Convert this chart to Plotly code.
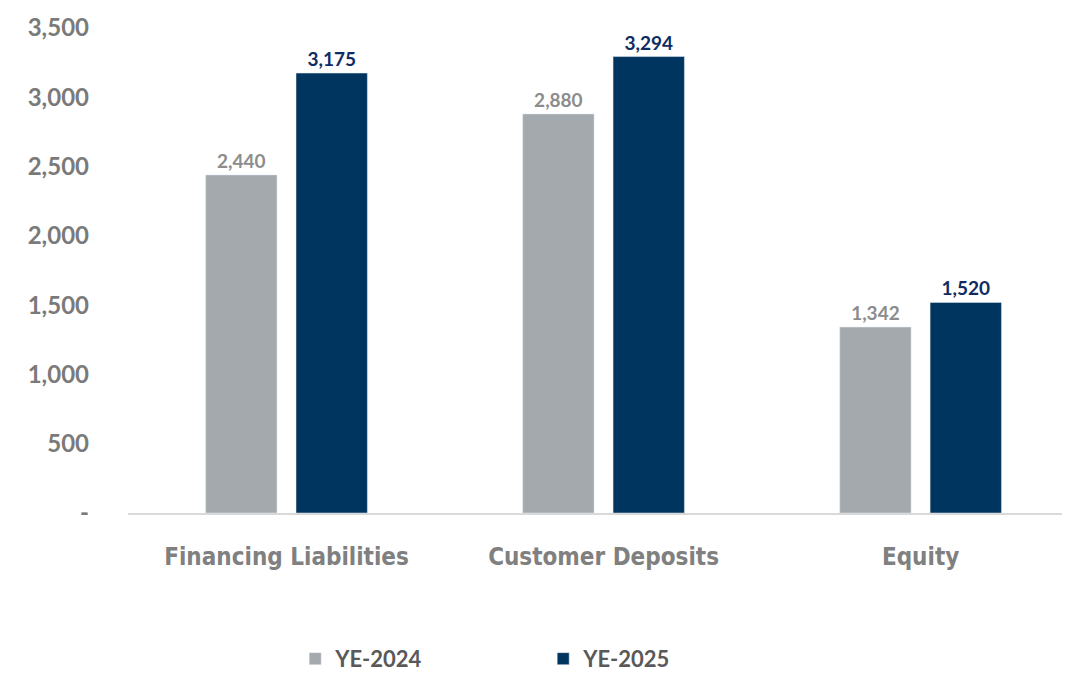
import plotly.graph_objects as go

categories = ["Financing Liabilities", "Customer Deposits", "Equity"]
ye2024 = [2440, 2880, 1342]
ye2025 = [3175, 3294, 1520]
y_tickvals = [0, 500, 1000, 1500, 2000, 2500, 3000, 3500]
y_ticktext = ["-", "500", "1,000", "1,500", "2,000", "2,500", "3,000", "3,500"]

GREY = "#a3a9ad"
NAVY = "#003560"

fig = go.Figure()
fig.add_trace(go.Bar(
    name="YE-2024", x=categories, y=ye2024, marker_color=GREY,
    texttemplate="%{y:,.0f}", textposition="outside", cliponaxis=False,
    textfont=dict(family="Lato", size=19, color="#8c8c8c", weight="bold"),
))
fig.add_trace(go.Bar(
    name="YE-2025", x=categories, y=ye2025, marker_color=NAVY,
    texttemplate="%{y:,.0f}", textposition="outside", cliponaxis=False,
    textfont=dict(family="Lato", size=19, color="#0f2c63", weight="bold"),
))

fig.update_layout(
    width=1069, height=673,
    margin=dict(l=128, r=7, t=10, b=160, autoexpand=False),
    paper_bgcolor="white", plot_bgcolor="white",
    barmode="group", bargap=0.43, bargroupgap=0.21,
    showlegend=True,
    legend=dict(
        orientation="h", x=0.179, xanchor="left", y=-0.29, yanchor="middle",
        entrywidth=203, entrywidthmode="pixels",
        font=dict(family="Lato", size=22, color="#595959", weight="bold"),
        itemclick=False,
    ),
    xaxis=dict(
        range=[-0.5, 2.446], showline=True, linecolor="#d9d9d9", linewidth=2,
        showgrid=False, ticks="", ticklabelstandoff=21, automargin=False,
        tickfont=dict(family="DejaVu Sans Condensed, Roboto, sans-serif", size=24,
                      color="#808080", weight="bold"),
    ),
    yaxis=dict(
        range=[0, 3630], tickvals=y_tickvals, ticktext=y_ticktext,
        showgrid=False, zeroline=False, showline=False, ticks="",
        ticklabelstandoff=38, automargin=False,
        tickfont=dict(family="Lato", size=24, color="#7a7a7a", weight="bold"),
    ),
)

fig.write_html("out.html", config={"displayModeBar": False},
               post_script="document.body.style.margin='0';")
